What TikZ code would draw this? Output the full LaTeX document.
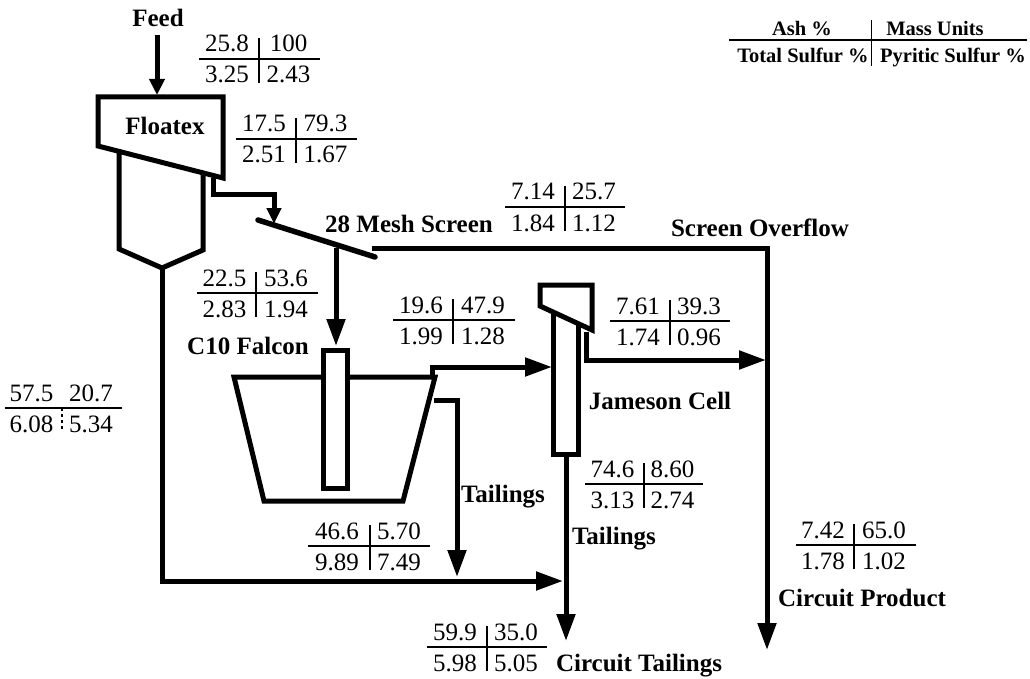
\documentclass[tikz,border=0pt]{standalone}
\usepackage{fontspec}
\setmainfont{Liberation Serif}
\usetikzlibrary{arrows.meta}
\tikzset{
  flow/.style={line width=5pt,line join=miter,-{Triangle[length=27pt,width=18pt]}},
  flowsmall/.style={line width=5pt,-{Triangle[length=16pt,width=15pt]}},
  vessel/.style={line width=5pt,line join=miter,draw=black},
  pipe/.style={line width=5pt,line join=miter},
  lab/.style={font=\fontsize{25}{28}\selectfont\bfseries,inner sep=0pt,anchor=base},
  legend/.style={font=\fontsize{20.5}{24}\selectfont\bfseries,inner sep=0pt,anchor=base},
  val/.style={font=\fontsize{25}{29}\selectfont,inner sep=0pt,anchor=base},
  rulel/.style={line width=1.4pt},
}
% \tb{name}{left}{right}{vbar}{rule y}{a}{b}{c}{d}
\newcommand{\tb}[9]{%
  \coordinate (#1L) at (#2,#5);
  \coordinate (#1R) at (#3,#5);
  \coordinate (#1T) at (#4,#5-21);
  \coordinate (#1M) at (#4,#5);
  \coordinate (#1B) at (#4,#5+24);
  \draw[rulel] (#1L) -- (#1R);
  \node[val] (#1a) at ({(#2+#4)/2-2},#5-7) {#6};
  \node[val] (#1b) at ({(#3+#4)/2-1},#5-7) {#7};
  \node[val] (#1c) at ({(#2+#4)/2-2},#5+24) {#8};
  \node[val] (#1d) at ({(#3+#4)/2-1},#5+24) {#9};
}
\newcommand{\tbv}[1]{\draw[rulel] (#1T) -- (#1B);}
\begin{document}
\begin{tikzpicture}[x=1pt,y=-1pt]
\useasboundingbox (0,0) rectangle (1030,679);
% labels
\node[lab] (feed) at (158,27) {Feed};
\node[lab] (floatex) at (165,135) {Floatex};
\node[lab] (mesh) at (409,232) {28 Mesh Screen};
\node[lab] (over) at (760,236) {Screen Overflow};
\node[lab] (falcon) at (248,354) {C10 Falcon};
\node[lab] (jameson) at (660,409) {Jameson Cell};
\node[lab] (tail1) at (503,502) {Tailings};
\node[lab] (tail2) at (614,544) {Tailings};
\node[lab] (prod) at (862,606) {Circuit Product};
\node[lab] (ctail) at (639,671) {Circuit Tailings};
% tables
\tb{ta}{199}{320}{259}{59}{25.8}{100}{3.25}{2.43} \tbv{ta}
\tb{tb}{236}{357}{296}{139}{17.5}{79.3}{2.51}{1.67} \tbv{tb}
\tb{tc}{197}{318}{256}{293}{22.5}{53.6}{2.83}{1.94} \tbv{tc}
\tb{td}{505}{625}{565}{207}{7.14}{25.7}{1.84}{1.12} \tbv{td}
\tb{te}{393}{515}{453}{320}{19.6}{47.9}{1.99}{1.28} \tbv{te}
\tb{tf}{610}{730}{670}{321}{7.61}{39.3}{1.74}{0.96} \tbv{tf}
\tb{tg}{5}{122}{62}{408}{57.5}{20.7}{6.08}{5.34}
\draw[line width=1.2pt,dashed] (tgM) -- (tgB);
\tb{th}{585}{703}{644}{484}{74.6}{8.60}{3.13}{2.74} \tbv{th}
\tb{ti}{308}{430}{370}{546}{46.6}{5.70}{9.89}{7.49} \tbv{ti}
\tb{tj}{796}{916}{854}{545}{7.42}{65.0}{1.78}{1.02} \tbv{tj}
\tb{tk}{427}{547}{487}{647}{59.9}{35.0}{5.98}{5.05} \tbv{tk}
% legend
\coordinate (lgL) at (729,40);
\coordinate (lgR) at (1027,40);
\coordinate (lgT) at (871,20);
\coordinate (lgB) at (871,66);
\draw[rulel] (lgL) -- (lgR);
\draw[line width=1pt] (lgT) -- (lgB);
\node[legend] (lga) at (802,36) {Ash \%};
\node[legend] (lgb) at (935,36) {Mass Units};
\node[legend] (lgc) at (803,63) {Total Sulfur \%};
\node[legend] (lgd) at (953,63) {Pyritic Sulfur \%};
% Floatex
\coordinate (f1) at (98,97);
\coordinate (f2) at (223,97);
\coordinate (f3) at (223,178);
\coordinate (f4) at (98,146);
\coordinate (b1) at (119,153);
\coordinate (b2) at (119,249);
\coordinate (b3) at (162,268);
\coordinate (b4) at (203,250);
\coordinate (b5) at (203,174);
\draw[vessel] (b1) -- (b2) -- (b3) -- (b4) -- (b5);
\draw[vessel] (f1) -- (f2) -- (f3) -- (f4) -- cycle;
\coordinate (feedtop) at (157,35);
\coordinate (feedin) at (157,95);
\draw[flowsmall] (feedtop) -- (feedin);
% to screen
\coordinate (o1) at (213,178);
\coordinate (o2) at (213,195);
\coordinate (o3) at (274,195);
\coordinate (o4) at (274,224);
\draw[pipe,-{Triangle[length=16pt,width=14pt]}] (o1) -- (o2) -- (o3) -- (o4);
% screen
\coordinate (s1) at (258,220);
\coordinate (s2) at (375,257);
\draw[line width=5.5pt,line cap=round] (s1) -- (s2);
% overflow
\coordinate (so1) at (372,248);
\coordinate (so2) at (767,248);
\coordinate (so3) at (767,650);
\draw[flow] (so1) -- (so2) -- (so3);
% under screen
\coordinate (u1) at (336,248);
\coordinate (u2) at (336,346);
\draw[flow] (u1) -- (u2);
% Floatex underflow
\coordinate (uf1) at (162,268);
\coordinate (uf2) at (162,581);
\coordinate (uf3) at (563,581);
\draw[flow] (uf1) -- (uf2) -- (uf3);
% Falcon
\coordinate (fa1) at (234,377);
\coordinate (fa2) at (435,377);
\coordinate (fa3) at (403,501);
\coordinate (fa4) at (264,501);
\draw[vessel] (fa1) -- (fa2) -- (fa3) -- (fa4) -- cycle;
\coordinate (tu1) at (323,350);
\coordinate (tu2) at (347,488);
\draw[vessel,fill=white] (tu1) rectangle (tu2);
% Falcon outlets
\coordinate (co1) at (432,377);
\coordinate (co2) at (432,367);
\coordinate (co3) at (552,367);
\draw[flow] (co1) -- (co2) -- (co3);
\coordinate (ct1) at (434,400);
\coordinate (ct2) at (457,400);
\coordinate (ct3) at (457,577);
\draw[flow] (ct1) -- (ct2) -- (ct3);
% Jameson
\coordinate (j1) at (553,312);
\coordinate (j2) at (578,454);
\draw[vessel,fill=white] (j1) rectangle (j2);
\coordinate (h1) at (540,285);
\coordinate (h2) at (592,285);
\coordinate (h3) at (592,330);
\coordinate (h4) at (540,306);
\draw[vessel,fill=white] (h1) -- (h2) -- (h3) -- (h4) -- cycle;
\coordinate (jo1) at (586,332);
\coordinate (jo2) at (586,360);
\coordinate (jo3) at (766,360);
\draw[flow] (jo1) -- (jo2) -- (jo3);
\coordinate (jt1) at (566,454);
\coordinate (jt2) at (566,641);
\draw[flow] (jt1) -- (jt2);
\end{tikzpicture}
\end{document}
